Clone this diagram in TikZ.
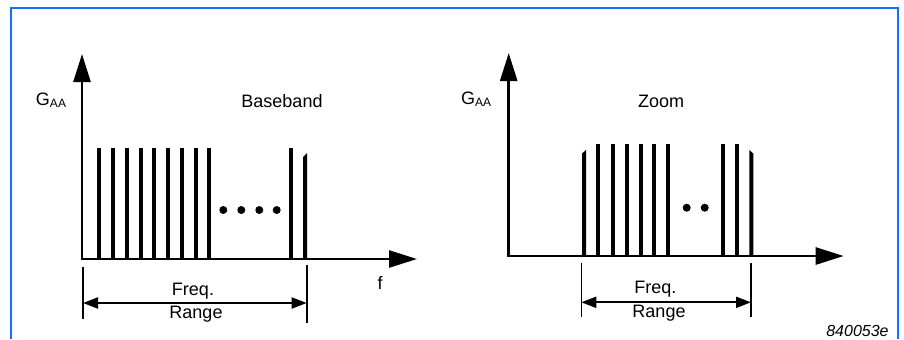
\documentclass[tikz,border=0pt]{standalone}
\usepackage{fontspec}
\setmainfont{Liberation Sans}
\usetikzlibrary{arrows.meta,positioning}
\definecolor{frameblue}{RGB}{20,110,255}
\tikzset{>={Triangle[length=14pt,width=8.5pt]},
  axis/.style={line width=1.3pt,<->},
  bar/.style={line width=2pt},
  tickline/.style={line width=0.8pt},
  rangearrow/.style={line width=1pt,{Triangle[length=7.5pt,width=5.5pt]}-{Triangle[length=7.5pt,width=5.5pt]}},
  lbl/.style={font=\fontsize{9}{10}\selectfont,inner sep=0pt}}

\begin{document}
\begin{tikzpicture}[x=0.5pt,y=-0.5pt]
    \useasboundingbox (0,0) rectangle (904,339);
    \draw[frameblue,line width=1pt] (11,339) -- (11,8) -- (898,8) -- (898,339);

    % baseband spectrum
    \coordinate (O1) at (82,259);
    \coordinate (Y1) at (82,54);
    \coordinate (X1) at (417,259);
    \draw[axis] (Y1) -- (O1) -- (X1);
    \foreach \x in {0,...,8}
        \draw[bar] ({99.3+13.75*\x},259) -- ({99.3+13.75*\x},148);
    \draw[bar] (291.3,259) -- (291.3,148);
    \fill (303,259) -- (303,157) -- (307,153) -- (307,259) -- cycle;
    \foreach \x in {223.3,241.3,259.3,276.7}
        \fill (\x,210) circle[radius=4];

    \node[lbl] (G1) at (51.5,100) {G\textsubscript{AA}};
    \node[lbl] (B1) at (282,101.5) {Baseband};
    \node[lbl] (f1) at (380,282.5) {f};

    \coordinate (T1a) at (83,267);
    \coordinate (T1b) at (83,319);
    \coordinate (T2a) at (306.7,265);
    \coordinate (T2b) at (306.7,323);
    \draw[tickline] (T1a) -- (T1b);
    \draw[tickline] (T2a) -- (T2b);
    \coordinate (R1a) at (83,303);
    \coordinate (R1b) at (306.7,303);
    \draw[rangearrow] (R1a) -- (R1b);
    \node[lbl] (F1) at (193,291.5) {Freq.};
    \node[lbl] (N1) at (196,314.5) {Range};

    % zoom spectrum
    \coordinate (O2) at (508.7,256);
    \coordinate (Y2) at (508.7,53);
    \coordinate (X2) at (843.7,256);
    \draw[axis] (Y2) -- (O2) -- (X2);
    \fill (582,256) -- (582,153.5) -- (586,150) -- (586,256) -- cycle;
    \foreach \x in {598.3,613.3,627.3,641,654.3,667.7,723.3,736.7}
        \draw[bar] (\x,256) -- (\x,144);
    \fill (749.3,256) -- (749.3,150) -- (753.3,153.5) -- (753.3,256) -- cycle;
    \foreach \x in {686.7,704.7}
        \fill (\x,207.7) circle[radius=4];

    \node[lbl] (G2) at (476.5,99) {G\textsubscript{AA}};
    \node[lbl] (Z2) at (661,101) {Zoom};

    \coordinate (T3a) at (581.3,263);
    \coordinate (T3b) at (581.3,317);
    \coordinate (T4a) at (751,263);
    \coordinate (T4b) at (751,317);
    \draw[tickline] (T3a) -- (T3b);
    \draw[tickline] (T4a) -- (T4b);
    \coordinate (R2a) at (581.3,302.3);
    \coordinate (R2b) at (751,302.3);
    \draw[rangearrow] (R2a) -- (R2b);
    \node[lbl] (F2) at (655.3,289) {Freq.};
    \node[lbl] (N2) at (659,313) {Range};

    \node[lbl,anchor=east,font=\fontsize{8}{9}\selectfont\itshape] (ID) at (889,331) {840053e};
\end{tikzpicture}
\end{document}
